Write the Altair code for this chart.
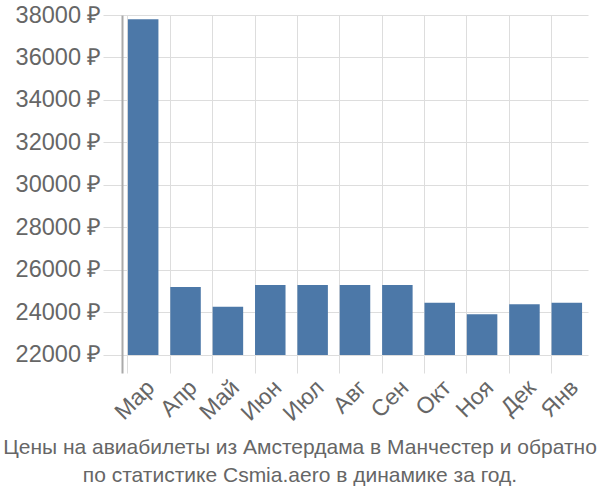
import altair as alt
import pandas as pd

months = ["Мар", "Апр", "Май", "Июн", "Июл", "Авг", "Сен", "Окт", "Ноя", "Дек", "Янв"]
prices = [37800, 25200, 24270, 25290, 25290, 25290, 25290, 24460, 23910, 24380, 24460]
y_ticks = [22000, 24000, 26000, 28000, 30000, 32000, 34000, 36000, 38000]
title_lines = ["Цены на авиабилеты из Амстердама в Манчестер и обратно",
               "по статистике Csmia.aero в динамике за год."]

df = pd.DataFrame({"month": months, "price": prices})

chart = alt.Chart(df).mark_bar(color="#4c78a8").encode(
    x=alt.X("month:N", sort=months,
            scale=alt.Scale(paddingInner=0.28, paddingOuter=0.14),
            axis=alt.Axis(title=None, labelAngle=-45, labelFontSize=23,
                          labelColor="#666", labelFont="Liberation Sans",
                          domain=False, ticks=False, grid=True, gridColor="#ddd",
                          bandPosition=0, labelPadding=3)),
    y=alt.Y("price:Q", scale=alt.Scale(domain=[21150, 38000], nice=False, zero=False),
            axis=alt.Axis(title=None, values=y_ticks, labelExpr="datum.value + ' ₽'",
                          labelFontSize=23.5, labelColor="#666", labelFont="Liberation Sans",
                          tickSize=19, tickColor="#ddd", gridColor="#ddd",
                          domainColor="#aaa", domainWidth=2, labelPadding=2)),
    y2=alt.datum(22000),
).properties(
    width=466, height=358,
    autosize=alt.AutoSizeParams(type="none"),
    padding={"left": 122, "top": 15, "right": 12, "bottom": 127},
    title=alt.TitleParams(text=title_lines, orient="bottom", anchor="middle",
                          fontSize=21, font="Liberation Sans", fontWeight="normal",
                          color="#666", dx=-55, offset=12, lineHeight=28),
).configure_view(stroke=None)

chart.save("out.html", embed_options={"renderer": "svg", "actions": False})
